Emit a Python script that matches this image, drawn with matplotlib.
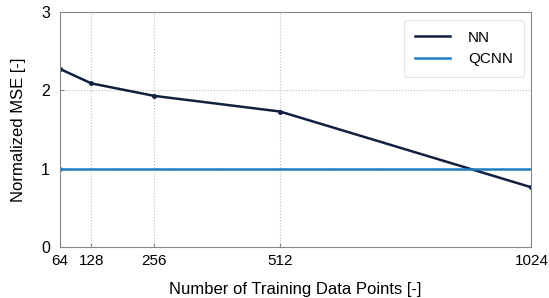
import matplotlib
matplotlib.use('Agg')
import matplotlib.pyplot as plt

# Data
train_points = [64, 128, 256, 512, 1024]
nn_mse = [2.275, 2.09, 1.93, 1.73, 0.76]
qcnn_mse = [1.0, 1.0, 1.0, 1.0, 1.0]

plt.rcParams['font.family'] = ['Liberation Sans', 'DejaVu Sans']

fig = plt.figure(figsize=(5.49, 2.98), dpi=100)
ax = fig.add_axes([0.109, 0.172, 0.859, 0.787])

nn_color = '#0f2040'
qcnn_color = '#1f7cc1'

# lines (legend entries without markers) and small dots on the data points
ax.plot(train_points, nn_mse, color=nn_color, lw=1.8, label='NN')
ax.plot(train_points, qcnn_mse, color=qcnn_color, lw=1.8, label='QCNN')
ax.plot(train_points, nn_mse, ls='none', marker='o', ms=2.5, color=nn_color)
ax.plot(train_points[:1], qcnn_mse[:1], ls='none', marker='o', ms=2.5, color=qcnn_color)

ax.set_xlim(64, 1024)
ax.set_ylim(0, 3)
ax.set_xticks(train_points)
ax.set_yticks([0, 1, 2, 3])
ax.tick_params(direction='in', length=3, width=0.8, color='#888888', labelsize=11, pad=5)
ax.tick_params(axis='y', pad=7, labelsize=11.5)
ax.grid(True, linestyle=':', color='#bbbbbb', lw=0.8)

for s in ax.spines.values():
    s.set_color('#888888')
    s.set_linewidth(0.8)

ax.set_xlabel('Number of Training Data Points [-]', fontsize=12, labelpad=10)
ax.set_ylabel('Normalized MSE [-]', fontsize=12, labelpad=11)

leg = ax.legend(loc='upper right', fontsize=11, frameon=True, fancybox=True,
                handlelength=2.3, borderpad=0.7, labelspacing=0.5, handletextpad=1.2)
leg.get_frame().set_edgecolor('#dddddd')
leg.get_frame().set_linewidth(0.8)

plt.savefig('out.png', dpi=100)
plt.close()
